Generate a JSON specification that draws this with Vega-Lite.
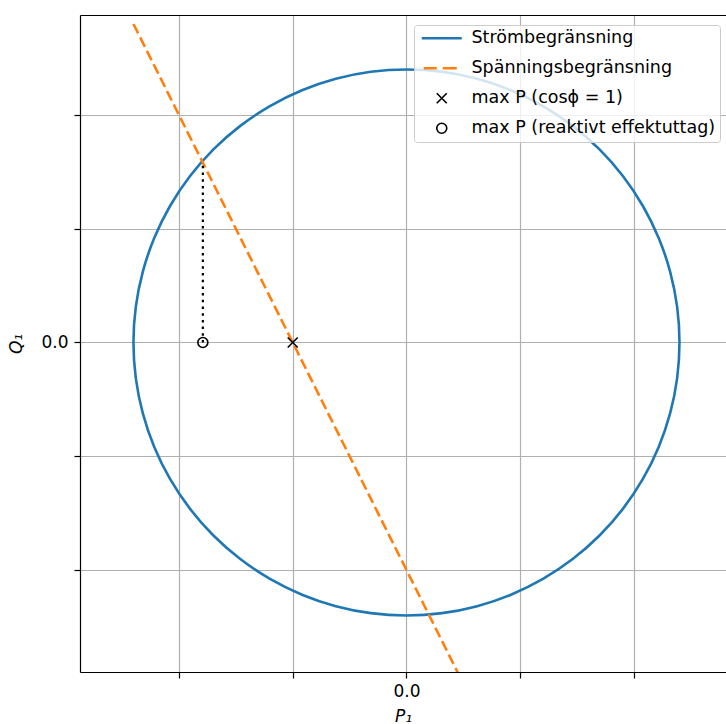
{
  "$schema": "https://vega.github.io/schema/vega-lite/v6.json",
  "width": 646,
  "height": 657,
  "autosize": "none",
  "padding": {"left": 80, "top": 15, "right": 0, "bottom": 52},
  "config": {
    "font": "DejaVu Sans",
    "view": {"stroke": null},
    "axis": {
      "domainColor": "black", "domainWidth": 1.2,
      "tickColor": "black", "tickWidth": 1.2, "tickSize": 6,
      "labelColor": "black", "labelFontSize": 17, "labelPadding": 5,
      "gridColor": "#b0b0b0", "gridWidth": 1.2,
      "titleColor": "black", "titleFontSize": 17, "titleFontWeight": "normal", "titleFontStyle": "italic"
    },
    "legend": {
      "orient": "none", "legendX": 334, "legendY": 10,
      "title": null,
      "fillColor": "rgba(255,255,255,0.8)", "strokeColor": "#cccccc", "cornerRadius": 3,
      "padding": 4.5,
      "labelFontSize": 17.5, "labelColor": "black", "labelFont": "DejaVu Sans", "labelLimit": 500,
      "symbolSize": 100, "symbolOffset": 14.5, "labelOffset": 21, "rowPadding": 11,
      "symbolStrokeWidth": 1.5
    }
  },
  "datasets": {
    "circle": [
      {"i": 0, "P": 2.4, "Q": 0}, {"i": 1, "P": 2.3795, "Q": 0.3133}, {"i": 2, "P": 2.3182, "Q": 0.6212},
      {"i": 3, "P": 2.2173, "Q": 0.9184}, {"i": 4, "P": 2.0785, "Q": 1.2}, {"i": 5, "P": 1.904, "Q": 1.461},
      {"i": 6, "P": 1.6971, "Q": 1.6971}, {"i": 7, "P": 1.461, "Q": 1.904}, {"i": 8, "P": 1.2, "Q": 2.0785},
      {"i": 9, "P": 0.9184, "Q": 2.2173}, {"i": 10, "P": 0.6212, "Q": 2.3182}, {"i": 11, "P": 0.3133, "Q": 2.3795},
      {"i": 12, "P": 0, "Q": 2.4}, {"i": 13, "P": -0.3133, "Q": 2.3795}, {"i": 14, "P": -0.6212, "Q": 2.3182},
      {"i": 15, "P": -0.9184, "Q": 2.2173}, {"i": 16, "P": -1.2, "Q": 2.0785}, {"i": 17, "P": -1.461, "Q": 1.904},
      {"i": 18, "P": -1.6971, "Q": 1.6971}, {"i": 19, "P": -1.904, "Q": 1.461}, {"i": 20, "P": -2.0785, "Q": 1.2},
      {"i": 21, "P": -2.2173, "Q": 0.9184}, {"i": 22, "P": -2.3182, "Q": 0.6212}, {"i": 23, "P": -2.3795, "Q": 0.3133},
      {"i": 24, "P": -2.4, "Q": 0}, {"i": 25, "P": -2.3795, "Q": -0.3133}, {"i": 26, "P": -2.3182, "Q": -0.6212},
      {"i": 27, "P": -2.2173, "Q": -0.9184}, {"i": 28, "P": -2.0785, "Q": -1.2}, {"i": 29, "P": -1.904, "Q": -1.461},
      {"i": 30, "P": -1.6971, "Q": -1.6971}, {"i": 31, "P": -1.461, "Q": -1.904}, {"i": 32, "P": -1.2, "Q": -2.0785},
      {"i": 33, "P": -0.9184, "Q": -2.2173}, {"i": 34, "P": -0.6212, "Q": -2.3182}, {"i": 35, "P": -0.3133, "Q": -2.3795},
      {"i": 36, "P": 0, "Q": -2.4}, {"i": 37, "P": 0.3133, "Q": -2.3795}, {"i": 38, "P": 0.6212, "Q": -2.3182},
      {"i": 39, "P": 0.9184, "Q": -2.2173}, {"i": 40, "P": 1.2, "Q": -2.0785}, {"i": 41, "P": 1.461, "Q": -1.904},
      {"i": 42, "P": 1.6971, "Q": -1.6971}, {"i": 43, "P": 1.904, "Q": -1.461}, {"i": 44, "P": 2.0785, "Q": -1.2},
      {"i": 45, "P": 2.2173, "Q": -0.9184}, {"i": 46, "P": 2.3182, "Q": -0.6212}, {"i": 47, "P": 2.3795, "Q": -0.3133}
    ],
    "voltage": [{"P": -2.4, "Q": 2.8}, {"P": 0.5, "Q": -3.0}],
    "drop": [{"P": -1.79, "Q": 0}, {"P": -1.79, "Q": 1.59}],
    "points": [
      {"P": -1.0, "Q": 0, "series": "max P (cosϕ = 1)"},
      {"P": -1.79, "Q": 0, "series": "max P (reaktivt effektuttag)"}
    ]
  },
  "resolve": {"axis": {"x": "independent"}},
  "encoding": {
    "y": {"field": "Q", "type": "quantitative",
          "scale": {"domain": [-2.897, 2.879], "nice": false, "zero": false},
          "axis": {"values": [-2, -1, 0, 1, 2], "labelExpr": "datum.value == 0 ? '0.0' : ''", "title": "Q₁", "titlePadding": 15, "grid": true, "labelPadding": 6}}
  },
  "layer": [
    {
      "data": {"name": "circle"},
      "mark": {"type": "line", "color": "#1f77b4", "strokeWidth": 2.6, "clip": true, "interpolate": "cardinal-closed"},
      "encoding": {
        "x": {"field": "P", "type": "quantitative",
              "scale": {"domain": [-2.87, 2.809], "nice": false, "zero": false},
              "axis": {"values": [-2, -1, 0, 1, 2], "labelExpr": "datum.value == 0 ? '0.0' : ''", "title": "P₁", "titlePadding": 9, "grid": true}},
        "order": {"field": "i", "type": "quantitative"}
      }
    },
    {
      "data": {"name": "voltage"},
      "mark": {"type": "line", "color": "#ff7f0e", "strokeWidth": 2.6, "strokeDash": [10.5, 4.5], "clip": true},
      "encoding": {
        "x": {"field": "P", "type": "quantitative", "axis": null}
      }
    },
    {
      "data": {"name": "drop"},
      "mark": {"type": "line", "color": "black", "strokeWidth": 2.2, "strokeDash": [2.5, 4.2], "clip": true},
      "encoding": {
        "x": {"field": "P", "type": "quantitative",
              "axis": {"orient": "top", "grid": false, "ticks": false, "labels": false, "title": null, "domain": true}}
      }
    },
    {
      "data": {"name": "points"},
      "mark": {"type": "point", "filled": false, "size": 100, "opacity": 1},
      "encoding": {
        "x": {"field": "P", "type": "quantitative", "axis": null},
        "color": {"field": "series", "type": "nominal",
                  "scale": {"domain": ["Strömbegränsning", "Spänningsbegränsning", "max P (cosϕ = 1)", "max P (reaktivt effektuttag)"],
                            "range": ["#1f77b4", "#ff7f0e", "black", "black"]}},
        "shape": {"field": "series", "type": "nominal",
                  "scale": {"domain": ["Strömbegränsning", "Spänningsbegränsning", "max P (cosϕ = 1)", "max P (reaktivt effektuttag)"],
                            "range": ["M-4,0H4", "M-3.6,0H-1M0.2,0H3", "M-1,-1L1,1M-1,1L1,-1", "circle"]}},
        "strokeWidth": {"field": "series", "type": "nominal",
                  "scale": {"type": "ordinal", "domain": ["Strömbegränsning", "Spänningsbegränsning", "max P (cosϕ = 1)", "max P (reaktivt effektuttag)"],
                            "range": [2.6, 2.6, 1.6, 1.6]}}
      }
    }
  ]
}
